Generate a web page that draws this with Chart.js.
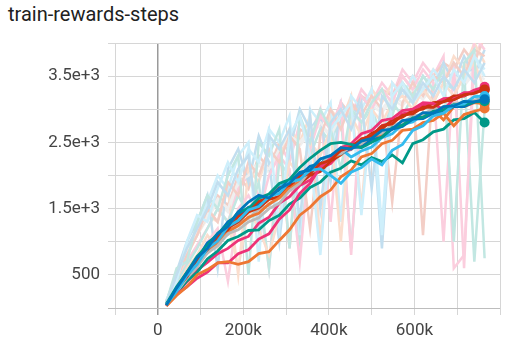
<!DOCTYPE html>
<html>
<head>
<meta charset="utf-8">
<script src="https://cdn.jsdelivr.net/npm/chart.js@4"></script>
<style>
  html, body { margin: 0; padding: 0; background: #fff; }
  #wrap { position: relative; width: 515px; height: 349px; }
  #title { position: absolute; left: 8px; top: 2px; font: 20px Roboto, sans-serif; color: #212121; }
  canvas { position: absolute; left: 0; top: 0; }
</style>
</head>
<body>
<div id="wrap">
  <div id="title">train-rewards-steps</div>
  <canvas id="chart" width="515" height="349"></canvas>
</div>
<script>
// steps shared by all runs (in env steps)
const steps = [20000, 44000, 68000, 92000, 116000, 140000, 164000, 188000, 212000, 236000, 260000, 284000,
  308000, 332000, 356000, 380000, 404000, 428000, 452000, 476000, 500000, 524000, 548000, 572000,
  596000, 620000, 644000, 668000, 692000, 716000, 740000, 764000];

// tensorboard run colours
const runColors = ['#0077bb', '#33bbee', '#009988', '#ee7733', '#cc3311', '#ee3377', '#bbbbbb',
  '#0077bb', '#33bbee', '#009988', '#ee7733', '#cc3311', '#ee3377', '#bbbbbb'];

// smoothed curves, one per run
const smoothBlue1 = [40, 300, 520, 760, 900, 1120, 1230, 1450, 1600, 1700, 1660, 1800, 1880, 2050, 2080, 2250, 2300, 2420, 2400, 2520, 2560, 2680, 2700, 2830, 2850, 2950, 2940, 3040, 3050, 3120, 3110, 3150];
const smoothCyan1 = [50, 250, 490, 660, 900, 1010, 1230, 1320, 1480, 1530, 1680, 1730, 1900, 1940, 2080, 2100, 2000, 1880, 2050, 2120, 2250, 2160, 2380, 2470, 2680, 2750, 2900, 2940, 3060, 3080, 3190, 3200];
const smoothTeal1 = [60, 320, 540, 780, 940, 1130, 1250, 1450, 1500, 1660, 1720, 1880, 1940, 2120, 2260, 2380, 2480, 2500, 2470, 2420, 2500, 2580, 2720, 2760, 2870, 2880, 2970, 2990, 3070, 3070, 3110, 3120];
const smoothOrange1 = [30, 190, 320, 500, 580, 680, 700, 660, 700, 820, 850, 1020, 1180, 1400, 1520, 1680, 1780, 1980, 2080, 2280, 2330, 2480, 2530, 2680, 2700, 2800, 2830, 2940, 2750, 2920, 2970, 3010];
const smoothRed1 = [50, 290, 470, 720, 880, 1080, 1180, 1380, 1460, 1610, 1660, 1810, 1850, 1980, 2030, 2180, 2230, 2380, 2430, 2550, 2600, 2750, 2780, 2910, 2930, 3030, 3030, 3120, 3140, 3220, 3240, 3300];
const smoothMagenta1 = [40, 210, 320, 450, 540, 680, 680, 820, 880, 1040, 1120, 1340, 1480, 1730, 1880, 2130, 2260, 2420, 2480, 2630, 2680, 2830, 2860, 2980, 3000, 3100, 3090, 2990, 3160, 3210, 3290, 3340];
const smoothGrey1 = [50, 240, 450, 620, 830, 940, 1120, 1180, 1300, 1360, 1500, 1580, 1770, 1880, 2070, 2160, 2300, 2330, 2440, 2480, 2600, 2640, 2760, 2800, 2900, 2920, 3010, 3020, 3090, 3100, 3140, 3150];
const smoothBlue2 = [40, 280, 540, 740, 980, 1100, 1300, 1400, 1520, 1560, 1700, 1780, 1940, 2000, 2140, 2180, 2300, 2330, 2420, 2430, 2540, 2580, 2700, 2740, 2850, 2860, 2940, 2960, 3040, 3040, 3110, 3130];
const smoothCyan2 = [50, 280, 480, 730, 880, 1080, 1210, 1400, 1480, 1640, 1700, 1840, 1900, 2040, 2100, 2250, 2300, 2400, 2280, 2370, 2430, 2570, 2630, 2770, 2810, 2920, 2940, 3030, 3040, 3120, 3130, 3180];
const smoothTeal2 = [60, 220, 410, 540, 740, 860, 1020, 1080, 1170, 1180, 1320, 1400, 1570, 1660, 1820, 1900, 2050, 2110, 2220, 2160, 2270, 2210, 2310, 2190, 2480, 2540, 2660, 2700, 2840, 2860, 2950, 2800];
const smoothOrange2 = [40, 250, 480, 660, 870, 980, 1160, 1240, 1370, 1430, 1570, 1660, 1820, 1900, 2060, 2130, 2270, 2320, 2440, 2460, 2580, 2620, 2740, 2780, 2880, 2900, 2990, 2840, 3040, 3040, 3100, 3080];
const smoothRed2 = [50, 270, 510, 700, 920, 1030, 1210, 1300, 1450, 1510, 1640, 1680, 1840, 1880, 2000, 2060, 2220, 2310, 2460, 2510, 2640, 2700, 2840, 2880, 2980, 3000, 3100, 3110, 3200, 3200, 3280, 3290];
const smoothMagenta2 = [30, 230, 390, 570, 690, 820, 900, 1020, 1080, 1280, 1370, 1580, 1680, 1850, 1930, 2110, 2180, 2350, 2400, 2550, 2600, 2750, 2800, 2930, 2960, 3060, 3080, 3160, 3170, 3250, 3250, 3300];
const smoothGrey2 = [45, 270, 450, 680, 830, 1010, 1110, 1280, 1350, 1490, 1550, 1700, 1780, 1940, 2010, 2160, 2220, 2350, 2390, 2500, 2540, 2660, 2700, 2820, 2840, 2940, 2950, 3040, 3040, 3120, 3120, 3170];

// raw (unsmoothed) rewards, one per run
const rawBlue1 = [80, 500, 900, 1200, 1500, 1900, 1700, 2100, 2300, 1200, 2600, 2400, 2700, 1300, 2900, 1500, 2800, 3000, 2700, 3100, 1800, 3200, 3000, 3300, 3100, 3400, 3200, 3500, 3300, 3600, 3400, 3700];
const rawCyan1 = [120, 400, 1000, 1400, 1300, 1800, 2200, 1900, 2400, 2200, 2700, 1200, 2600, 2900, 2300, 800, 2700, 2900, 3100, 1400, 3000, 1100, 3200, 3400, 3100, 3300, 3500, 3200, 3600, 3400, 3800, 3500];
const rawTeal1 = [90, 600, 700, 1300, 1700, 1500, 2000, 2300, 500, 2500, 2300, 2700, 900, 2900, 2500, 3000, 2700, 2100, 3000, 2800, 3100, 3300, 2900, 3400, 3200, 3500, 3300, 3600, 1000, 3700, 3900, 750];
const rawOrange1 = [60, 300, 600, 800, 1100, 900, 1300, 600, 1500, 1200, 800, 1400, 2200, 2000, 2500, 2300, 2700, 1000, 2900, 2600, 3000, 2800, 3100, 3200, 3000, 3300, 3100, 3400, 3200, 3500, 3700, 3300];
const rawRed1 = [100, 450, 800, 1100, 1500, 1300, 1900, 1700, 2200, 2000, 2400, 2200, 2600, 2400, 1200, 2600, 3000, 2700, 3100, 2900, 3200, 3000, 1600, 3100, 3400, 3200, 3500, 3400, 3700, 3500, 3900, 3800];
const rawMagenta1 = [70, 350, 500, 700, 1000, 1200, 400, 1500, 1700, 1400, 2000, 2300, 2100, 700, 2400, 2900, 2700, 3100, 800, 3200, 3000, 3300, 3100, 3500, 3300, 3600, 3400, 1000, 3700, 600, 4100, 3900];
const rawGrey1 = [100, 480, 850, 1150, 1400, 1650, 1500, 1900, 2000, 2200, 2100, 2400, 2600, 2500, 2700, 2800, 2600, 2900, 3000, 2800, 3100, 3000, 3200, 3100, 3300, 3200, 3400, 3300, 3500, 3400, 3600, 3500];
const rawBlue2 = [90, 550, 1000, 1300, 1700, 600, 2100, 2400, 1900, 2600, 2200, 1000, 2400, 3000, 2700, 2900, 1900, 3100, 2800, 3200, 3000, 900, 3200, 3400, 3100, 3500, 3300, 3700, 3400, 3800, 3500, 3900];
const rawCyan2 = [110, 500, 900, 1200, 1600, 2000, 1800, 2300, 2500, 700, 2700, 2500, 2900, 1100, 3000, 2800, 3100, 1300, 3200, 3000, 3300, 1200, 3400, 3200, 3500, 3300, 3600, 3400, 3700, 3500, 3800, 3600];
const rawTeal2 = [100, 380, 650, 900, 1200, 1500, 1300, 1700, 1400, 1900, 600, 2200, 2000, 1000, 2300, 2700, 2500, 2900, 900, 2800, 3000, 2600, 3100, 2900, 3200, 3300, 3100, 3400, 3300, 3600, 700, 3000];
const rawOrange2 = [80, 420, 780, 1100, 1400, 1300, 1800, 500, 2100, 1900, 2400, 2200, 2700, 2500, 2900, 1000, 3000, 2800, 3200, 1500, 3300, 3100, 3400, 3200, 3500, 3300, 3600, 3400, 3800, 3600, 4000, 3700];
const rawRed2 = [100, 480, 850, 1150, 1450, 1700, 1550, 2000, 1800, 2300, 2100, 2500, 900, 2700, 2600, 2900, 2700, 3100, 2900, 3200, 3100, 3300, 3200, 3500, 3300, 1100, 3500, 3700, 3600, 3900, 3700, 4100];
const rawMagenta2 = [60, 380, 700, 950, 1200, 1500, 1300, 1800, 2000, 1700, 600, 2500, 2200, 2800, 2600, 3000, 1300, 3100, 2900, 3300, 3100, 3400, 3200, 3600, 3400, 3700, 3500, 3800, 600, 800, 3700, 4200];
const rawGrey2 = [90, 460, 820, 1100, 1350, 1600, 1450, 1850, 2000, 2150, 2050, 2350, 2500, 2450, 2650, 2750, 2600, 2850, 2950, 2800, 3050, 2950, 3150, 3050, 3250, 3150, 3350, 3250, 3450, 3350, 3550, 3450];

const smoothRuns = [smoothBlue1, smoothCyan1, smoothTeal1, smoothOrange1, smoothRed1, smoothMagenta1, smoothGrey1,
  smoothBlue2, smoothCyan2, smoothTeal2, smoothOrange2, smoothRed2, smoothMagenta2, smoothGrey2];
const rawRuns = [rawBlue1, rawCyan1, rawTeal1, rawOrange1, rawRed1, rawMagenta1, rawGrey1,
  rawBlue2, rawCyan2, rawTeal2, rawOrange2, rawRed2, rawMagenta2, rawGrey2];

// axis ticks
const xLabelSteps = [0, 200000, 400000, 600000];
const yLabels = { 500: '500', 1500: '1.5e+3', 2500: '2.5e+3', 3500: '3.5e+3' };

const toPoints = (vals) => vals.map((v, i) => ({ x: steps[i], y: v }));

// pastel version of a run colour (mixed with white, opaque so overlaps stay light)
const pastel = (hex, a) => {
    const n = parseInt(hex.slice(1), 16);
    const mix = (c) => Math.round(c * a + 255 * (1 - a));
    return `rgb(${mix((n >> 16) & 255)}, ${mix((n >> 8) & 255)}, ${mix(n & 255)})`;
};

const datasets = [];
rawRuns.forEach((vals, i) => {
    datasets.push({
        data: toPoints(vals),
        borderColor: pastel(runColors[i], 0.24),
        borderWidth: 2.5,
        pointRadius: 0,
        tension: 0,
        order: 2
    });
});
smoothRuns.forEach((vals, i) => {
    datasets.push({
        data: toPoints(vals),
        borderColor: runColors[i],
        backgroundColor: runColors[i],
        borderWidth: 2.8,
        pointRadius: (ctx) => ctx.dataIndex === vals.length - 1 ? 5 : 0,
        pointBorderWidth: 0,
        tension: 0,
        order: 1
    });
});

const gridColor = (ctx) => ctx.tick && ctx.tick.value === 0 ? '#9a9a9a' : '#d6d6d6';

new Chart(document.getElementById('chart').getContext('2d'), {
    type: 'line',
    data: { datasets },
    options: {
        responsive: false,
        animation: false,
        events: [],
        layout: { padding: { top: 43, right: 15, left: 0, bottom: 0 } },
        plugins: { legend: { display: false }, tooltip: { enabled: false }, title: { display: false } },
        scales: {
            x: {
                type: 'linear',
                min: -100000,
                max: 800000,
                afterFit: (scale) => { scale.height = 41; },
                afterBuildTicks: (scale) => {
                    const t = [];
                    for (let v = -100000; v <= 800000; v += 100000) t.push({ value: v });
                    scale.ticks = t;
                },
                ticks: {
                    autoSkip: false,
                    maxRotation: 0,
                    padding: 6,
                    color: '#444',
                    font: { family: 'Roboto', size: 17 },
                    callback: (v) => xLabelSteps.includes(v) ? (v === 0 ? '0' : (v / 1000) + 'k') : ''
                },
                grid: { color: gridColor, lineWidth: (ctx) => ctx.tick && ctx.tick.value === 0 ? 1.5 : 1, tickLength: 7 },
                border: { display: false }
            },
            y: {
                min: 0,
                max: 4000,
                afterFit: (scale) => { scale.width = 115; },
                afterBuildTicks: (scale) => {
                    const t = [];
                    for (let v = 0; v <= 4000; v += 500) t.push({ value: v });
                    scale.ticks = t;
                },
                ticks: {
                    autoSkip: false,
                    padding: 8,
                    color: '#444',
                    font: { family: 'Roboto', size: 17 },
                    callback: (v) => yLabels[v] || ''
                },
                grid: { color: (ctx) => ctx.tick && ctx.tick.value === 0 ? '#bdbdbd' : '#d6d6d6', lineWidth: 1, tickLength: 7 },
                border: { display: false }
            }
        }
    }
});
</script>
</body>
</html>
